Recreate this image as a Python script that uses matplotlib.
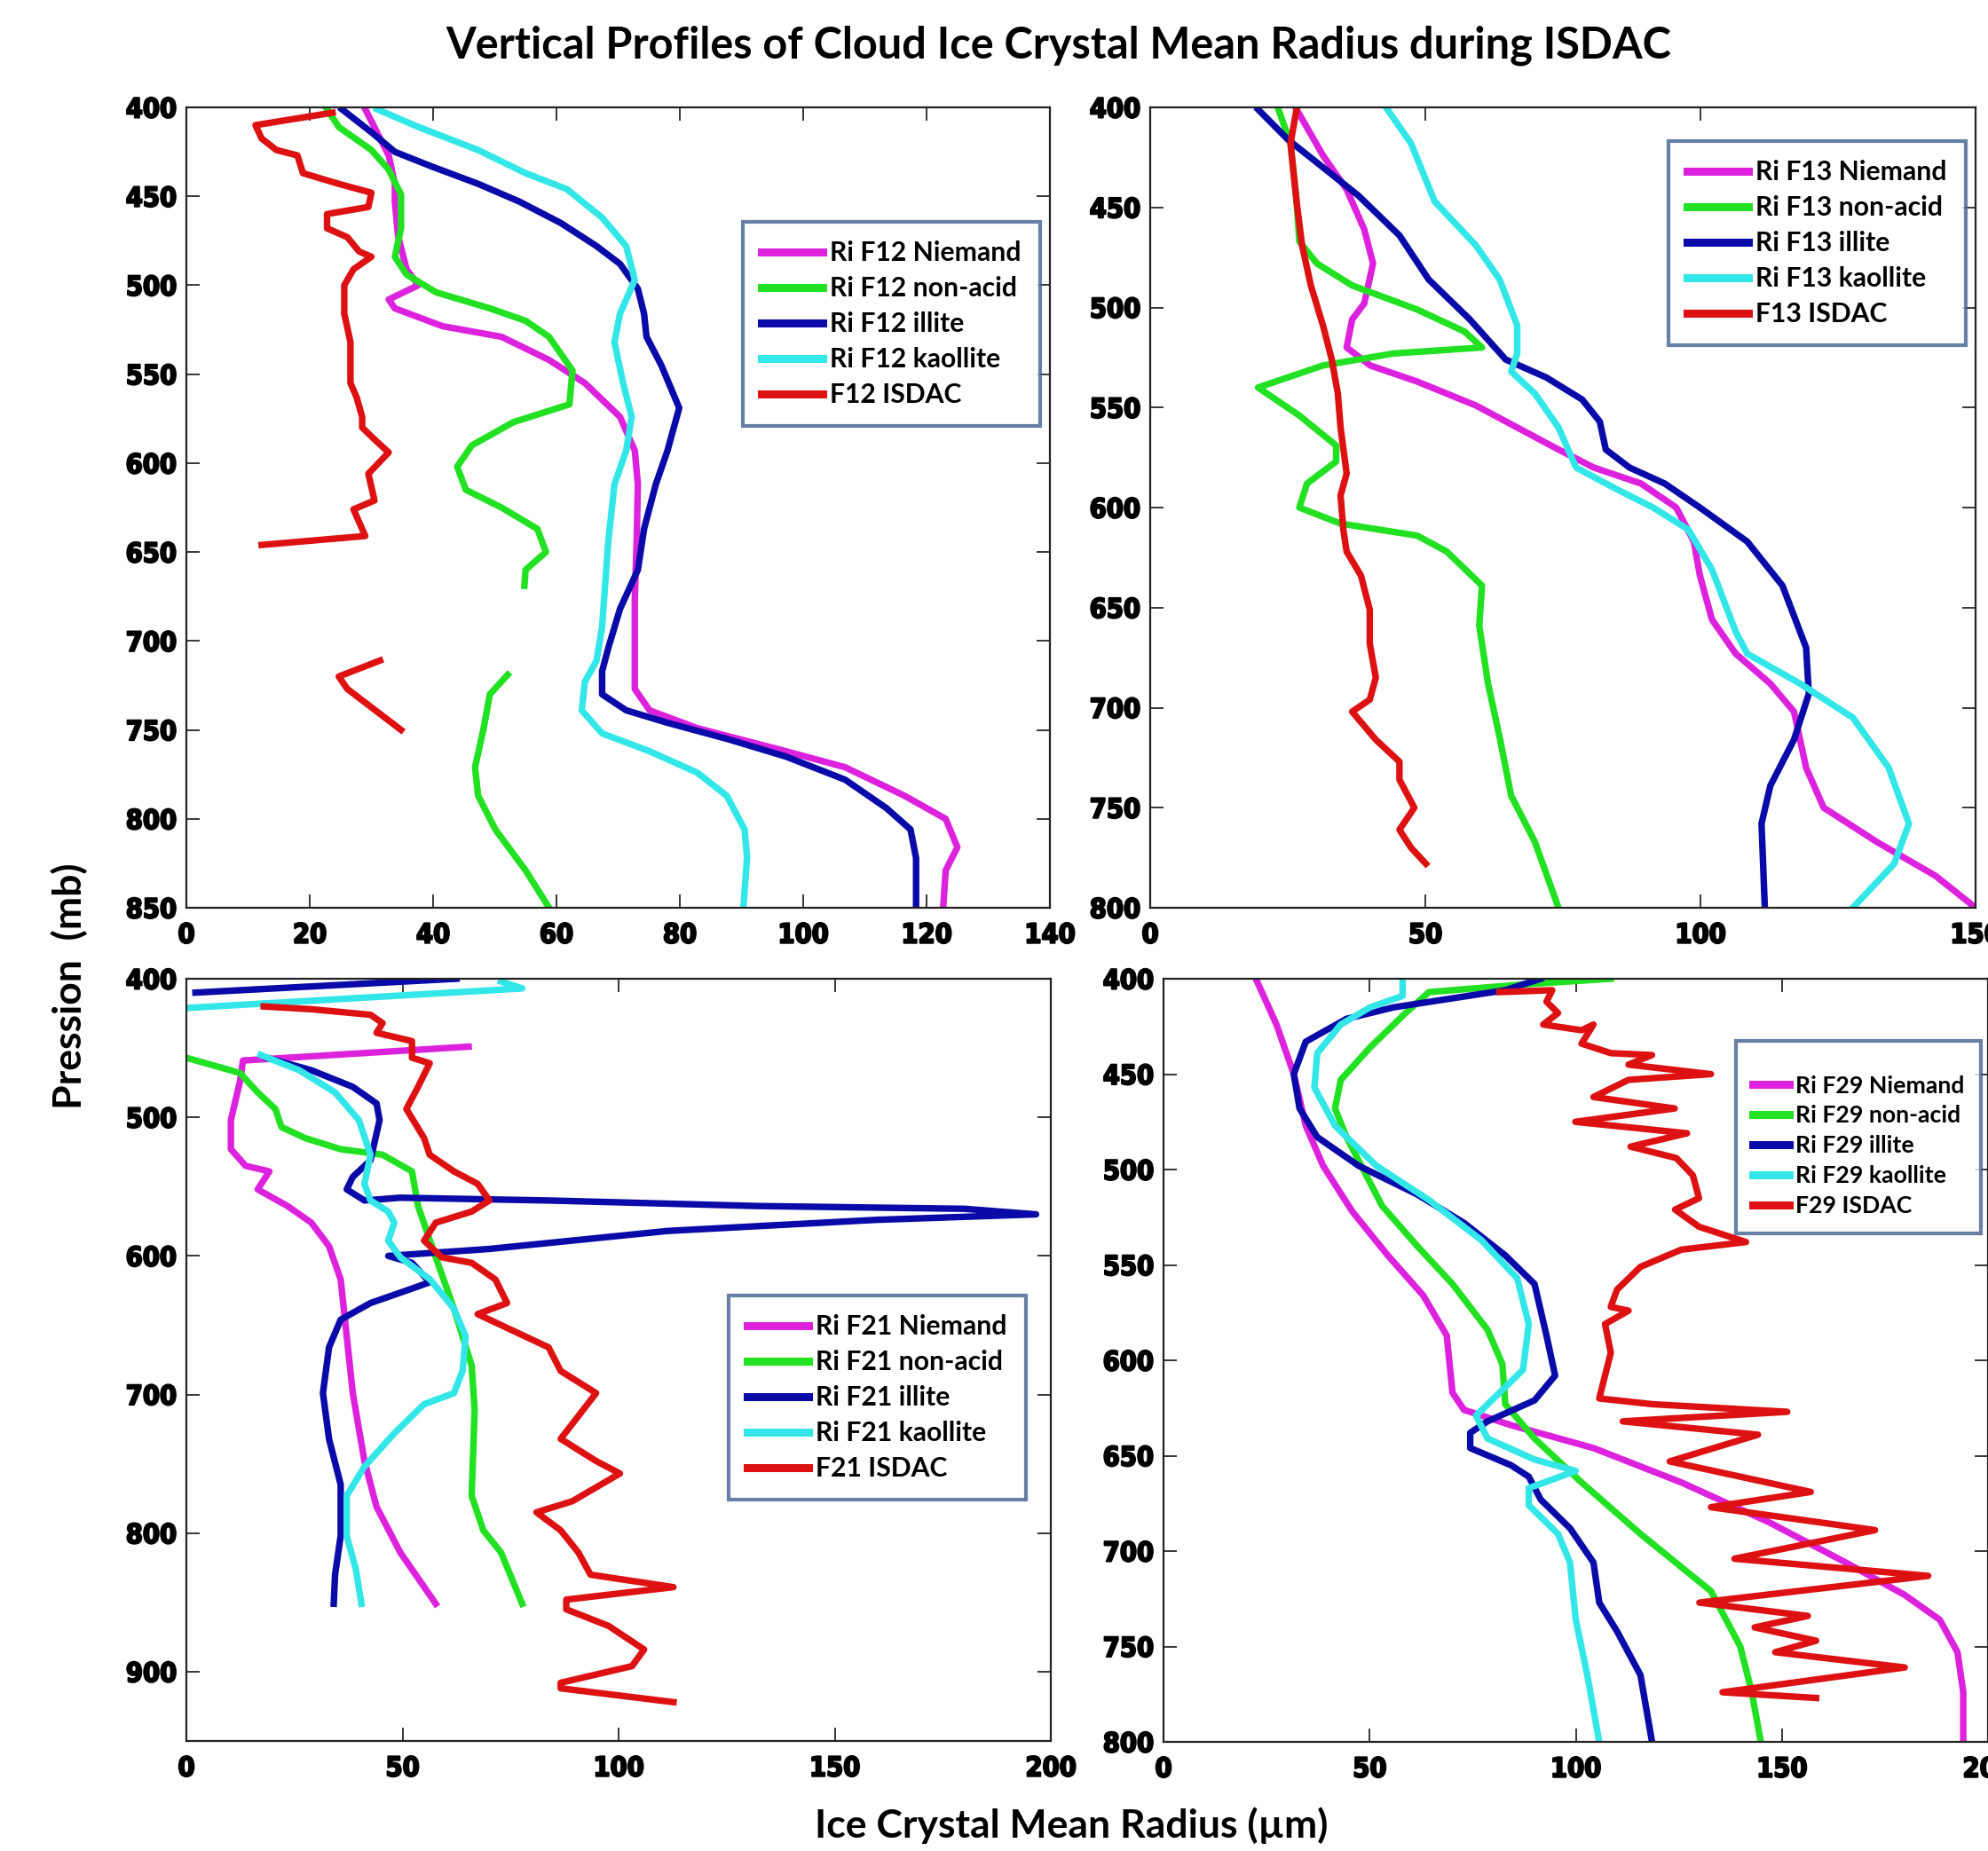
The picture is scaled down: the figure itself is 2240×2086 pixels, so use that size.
import numpy as np
import matplotlib.pyplot as plt
import matplotlib.patheffects as pe
from matplotlib import font_manager

nan = np.nan

# ---- F12 (top left) ----
f12_niemand_r = [29, 30.9, 32.8, 33.8, 33.8, 34.3, 35.7, 37.6, 32.8, 33.8, 41.5, 51.1, 58.8, 64.6, 70.3, 72.7, 73.2, 73, 72.7, 72.7, 72.7, 75.1, 82.8, 97.2, 106.8, 116.4, 123.1, 125, 123.1, 122.7]
f12_niemand_p = [401, 414, 427, 443, 453, 472, 491, 500, 508, 513, 523, 529, 542, 555, 574, 593, 612, 644, 676, 708, 727, 739, 749, 762, 771, 787, 800, 816, 829, 850]
f12_nonacid_r = [22.8, 24.7, 30, 32.8, 34.8, 34.8, 33.8, 35.7, 40.5, 49.2, 55, 58.8, 62.6, 62.1, 53, 46.3, 43.9, 45.3, 51.1, 56.9, 58.3, 55, 54.8, nan, 52.1, 49.2, 48.2, 46.8, 47.3, 50.1, 55, 58.8]
f12_nonacid_p = [401, 411, 424, 435, 449, 468, 484, 494, 504, 513, 520, 529, 548, 567, 577, 590, 602, 615, 625, 637, 650, 660, 669, nan, 719, 730, 749, 771, 787, 806, 829, 850]
f12_illite_r = [25.2, 30, 33.8, 39.6, 47.3, 54, 60.7, 66.5, 70.3, 73.2, 74.2, 74.6, 77, 79.9, 78, 76.1, 74.2, 73.2, 70.3, 68.4, 67.4, 67.4, 71.3, 78, 87.6, 97.2, 106.8, 113.5, 117.4, 118.3, 118.3]
f12_illite_p = [401, 414, 425, 433, 443, 453, 465, 478, 488, 502, 516, 529, 545, 569, 593, 612, 637, 660, 682, 704, 717, 730, 739, 746, 755, 765, 778, 794, 806, 822, 850]
f12_kaol_r = [30.9, 37.6, 47.3, 55, 61.7, 67.4, 71.3, 72.7, 70.3, 69.4, 70.8, 72.2, 71.3, 69.4, 68.4, 67.4, 66.5, 64.6, 64.1, 67.4, 75.1, 82.8, 87.6, 90.5, 90.9, 90.3]
f12_kaol_p = [401, 411, 424, 437, 446, 462, 478, 497, 516, 532, 555, 574, 593, 612, 644, 692, 711, 723, 739, 752, 762, 774, 787, 806, 822, 850]
f12_isdac_r = [23.7, 11.2, 12.2, 14.6, 18, 18.9, 24.7, 30, 29.5, 22.8, 22.8, 26.1, 28, 30, 27.1, 25.6, 25.6, 26.6, 26.6, 27.6, 28.5, 28.5, 30.9, 32.8, 29.5, 30.5, 27.1, 29, 12.2, nan, 31.4, 24.7, 26.1, 34.8]
f12_isdac_p = [403, 410, 417.5, 424, 427, 437, 443, 448, 456, 460, 468, 473, 481, 484, 491, 500, 516, 532, 555, 563, 574, 580, 588, 594, 606, 621, 626, 641, 646, nan, 711, 720, 727, 750]

# ---- F13 (top right) ----
f13_niemand_r = [26.6, 31.4, 35.7, 38.9, 40.5, 38.9, 36.7, 35.7, 40, 48.5, 59.2, 66.7, 74.2, 80.6, 89.2, 95.6, 98.8, 99.9, 102.1, 106.4, 112.7, 117, 119.2, 122.4, 132, 142.7, 150]
f13_niemand_p = [401, 424, 441, 461, 478, 498, 506, 520, 529, 537, 549, 560, 571, 580, 588, 600, 617, 634, 656, 673, 688, 702, 730, 750, 767, 784, 800]
f13_nonacid_r = [23.3, 25.5, 26.6, 27.1, 30.3, 36.7, 48.5, 57.1, 60.3, 44.2, 31.4, 19.6, 27.1, 33.8, 33.8, 28.5, 27.1, 34.6, 48.5, 53.9, 60.3, 59.8, 61.4, 63.6, 65.6, 69.9, 74.2]
f13_nonacid_p = [401, 418, 447, 467, 478, 489, 501, 512, 520, 523, 529, 540, 554, 569, 577, 588, 600, 608, 614, 622, 639, 659, 688, 716, 744, 767, 800]
f13_illite_r = [19.6, 25, 31.4, 37.8, 45.3, 50.6, 58.1, 64.6, 72, 78.5, 81.7, 82.8, 87.1, 93.5, 99.9, 108.5, 114.9, 119.2, 119.7, 117, 112.7, 111.1, 111.7]
f13_illite_p = [401, 416, 430, 444, 464, 486, 506, 526, 535, 546, 557, 571, 580, 588, 600, 617, 639, 670, 693, 716, 739, 758, 800]
f13_kaol_r = [43.1, 47.4, 51.7, 59.2, 63.5, 66.7, 66.7, 65.6, 69.9, 74.2, 77.4, 84.9, 91.4, 97.8, 102.1, 106.4, 108.5, 118.1, 127.7, 134.2, 137.9, 135.2, 127.7]
f13_kaol_p = [401, 418, 447, 469, 486, 509, 523, 532, 543, 560, 580, 591, 600, 611, 631, 662, 673, 688, 705, 730, 758, 778, 800]
f13_isdac_r = [26.6, 25.5, 26.6, 27.6, 29.2, 31.4, 33, 34.1, 34.6, 35.7, 34.6, 35.1, 35.7, 38.3, 39.9, 39.9, 41, 39.9, 36.7, 41, 45.3, 45.3, 48, 45.3, 47.4, 50.1]
f13_isdac_p = [401, 418, 447, 469, 489, 509, 526, 543, 560, 583, 594, 611, 622, 634, 651, 668, 685, 696, 702, 716, 727, 736, 750, 761, 770, 778]

# ---- F21 (bottom left) ----
f21_niemand_r = [65.3, 13.1, 12.4, 10.3, 10.3, 13.7, 19.2, 16.5, 23.4, 28.9, 33, 35.7, 37.1, 38.5, 41.2, 44, 49.5, 57.7]
f21_niemand_p = [449, 459, 474, 502, 523, 535, 539, 552, 564, 576, 593, 617, 658, 699, 748, 781, 814, 851]
f21_nonacid_r = [0, 12.4, 16.5, 20.6, 22, 27.5, 35.7, 45.4, 52.2, 53.6, 57.7, 61.9, 66, 66.7, 66, 68.7, 72.8, 77.7]
f21_nonacid_p = [457, 468, 482, 494, 507, 515, 523, 527, 539, 564, 601, 638, 679, 711, 773, 798, 814, 851]
f21_illite_r = [62.5, 2.1, nan, 18.6, 28.9, 38.5, 44, 44.7, 42.6, 38.5, 37.1, 41.2, 49.5, 83.8, 132, 180, 196.6, 159.5, 111.3, 70, 46.7, 52.2, 56.3, 50.9, 42.6, 35.7, 33, 31.6, 33, 35.7, 35.7, 34.4, 34.1]
f21_illite_p = [400, 410, nan, 457, 466, 478, 490, 502, 531, 543, 552, 560, 558, 560, 564, 566, 570, 574, 582, 595, 600, 605, 619, 625, 634, 646, 666, 699, 732, 765, 802, 830, 851]
f21_kaol_r = [72.8, 77.7, 0.7, nan, 17.2, 26.1, 34.4, 39.9, 42.6, 41.2, 42.6, 46.7, 48.1, 46.7, 49.5, 56.4, 61.9, 64.6, 63.9, 61.9, 55, 48.1, 41.2, 37.1, 37.1, 39.2, 40.5]
f21_kaol_p = [402, 407, 421, nan, 455, 466, 482, 502, 527, 548, 560, 568, 576, 589, 601, 617, 638, 658, 683, 699, 707, 728, 752, 773, 802, 826, 851]
f21_isdac_r = [17.9, 28.9, 42.6, 45.4, 44, 52.2, 52.2, 56.3, 53.6, 50.9, 55, 56.3, 61.9, 67.4, 70.1, 66, 57.7, 55, 59.1, 66, 71.5, 74.2, 67.4, 75.6, 83.8, 86.6, 94.8, 86.6, 94.8, 100.3, 89.3, 81, 86.6, 90.7, 93.5, 112.7, 87.9, 87.9, 97.7, 105.9, 103.1, 86.6, 86.6, 112.7]
f21_isdac_p = [420, 422, 426, 432, 439, 445, 457, 461, 478, 494, 515, 527, 539, 548, 560, 568, 576, 589, 601, 605, 617, 634, 642, 654, 666, 683, 699, 732, 748, 757, 777, 785, 798, 814, 830, 839, 848, 855, 867, 884, 896, 908, 912, 922]

# ---- F29 (bottom right) ----
f29_niemand_r = [22.4, 27.4, 31.6, 34.5, 38.7, 45.8, 54.4, 63, 68.7, 70.1, 72.9, 84.3, 104.3, 125.6, 147, 165.5, 179.8, 188.3, 192.6, 194, 194]
f29_niemand_p = [400, 424, 450, 477, 498, 522, 545, 566, 587, 617, 626, 634, 646, 664, 685, 706, 723, 736, 753, 774, 800]
f29_nonacid_r = [108.5, 87.2, 64.4, 58.7, 50.1, 43, 41.6, 44.4, 48.7, 53, 61.5, 70.1, 78.6, 82.2, 82.9, 90, 101.4, 115.7, 132.8, 139.9, 142.7, 144.9]
f29_nonacid_p = [400, 403, 407, 418, 436, 453, 468, 483, 501, 519, 540, 560, 584, 602, 623, 641, 664, 691, 721, 750, 774, 800]
f29_illite_r = [91.5, 82.9, 55.8, 44.4, 34.5, 31.6, 33, 37.3, 47.3, 61.5, 72.9, 82.9, 90, 92.9, 95, 90, 78.6, 74.4, 74.4, 84.3, 88.6, 91.5, 98.6, 104.3, 105.7, 110, 115.7, 118.5]
f29_illite_p = [400, 406, 415, 421, 433, 450, 468, 483, 498, 513, 528, 545, 560, 587, 608, 621, 632, 638, 646, 655, 661, 673, 688, 706, 727, 742, 765, 800]
f29_kaol_r = [58, 58, 50.1, 43, 37.3, 36.6, 41.6, 51.6, 64.4, 77.1, 85.8, 88.6, 87.2, 81.5, 75.8, 78.6, 90, 100, 88.6, 88.6, 95.7, 98.6, 100, 102.8, 105.7]
f29_kaol_p = [400, 409, 415, 424, 439, 457, 477, 498, 516, 537, 557, 581, 605, 617, 629, 641, 652, 658, 667, 676, 691, 706, 736, 765, 800]
f29_isdac_r = [81.5, 94.3, 92.9, 95.7, 92.1, 101.4, 104.3, 101.4, 108.5, 118.5, 112.8, 132.8, 112.8, 104.3, 124, 99.9, 127, 113.3, 124.4, 128.4, 129.9, 124.1, 129.9, 141.3, 125.6, 115.7, 110, 108.5, 112.8, 107.1, 108.5, 105.7, 118.5, 151.3, 111.4, 144.2, 122.8, 157, 132.8, 172.6, 138.5, 185.5, 130, 156.3, 143.4, 158.3, 148.4, 179.8, 135.6, 158.3]
f29_isdac_p = [407, 406, 412, 418, 424, 427, 424, 434, 439, 440, 445, 450, 453, 462, 468, 475, 481, 488, 494, 503, 515, 521, 530, 538, 542, 551, 563, 572, 574, 581, 596, 620, 623, 627, 632, 639, 653, 669, 677, 689, 704, 713, 727, 734, 740, 747, 753, 761, 774, 777]

series_names = ['Niemand', 'non-acid', 'illite', 'kaollite', 'ISDAC']
colors = ['#dd22dd', '#22e022', '#0a0aa8', '#33e6e8', '#dd1111']

W, H = 2240, 2086
fig = plt.figure(figsize=(W / 100, H / 100), dpi=100)

# narrow heavy font for the tick numbers, whatever is installed
avail = {f.name for f in font_manager.fontManager.ttflist}
if 'Liberation Sans Narrow' in avail:
    tick_font = dict(family='Liberation Sans Narrow', weight='bold', size=29)
elif 'DejaVu Sans Condensed' in avail:
    tick_font = dict(family='DejaVu Sans Condensed', weight='bold', size=25)
else:
    tick_font = dict(family='DejaVu Sans', weight='bold', stretch='condensed', size=22)
text_font = ['Lato', 'DejaVu Sans']

# name, data, axes box px (l, t, r, b), ylim, yticks, xlim, xticks,
# legend corner px, legend font, label spacing, handle length, top spacer size
panels = [
    ('F12', [(f12_niemand_r, f12_niemand_p), (f12_nonacid_r, f12_nonacid_p), (f12_illite_r, f12_illite_p),
             (f12_kaol_r, f12_kaol_p), (f12_isdac_r, f12_isdac_p)],
     (210, 121, 1183, 1023), (400, 850), range(400, 851, 50), (0, 140), range(0, 141, 20),
     (837, 250), 21.7, 0.4, 2.3, 0),
    ('F13', [(f13_niemand_r, f13_niemand_p), (f13_nonacid_r, f13_nonacid_p), (f13_illite_r, f13_illite_p),
             (f13_kaol_r, f13_kaol_p), (f13_isdac_r, f13_isdac_p)],
     (1296, 121, 2226, 1023), (400, 800), range(400, 801, 50), (0, 150), range(0, 151, 50),
     (1880, 159), 21.7, 0.4, 2.3, 0),
    ('F21', [(f21_niemand_r, f21_niemand_p), (f21_nonacid_r, f21_nonacid_p), (f21_illite_r, f21_illite_p),
             (f21_kaol_r, f21_kaol_p), (f21_isdac_r, f21_isdac_p)],
     (210, 1103, 1184, 1962), (400, 950), range(400, 901, 100), (0, 200), range(0, 201, 50),
     (821, 1460), 21.7, 0.4, 2.3, 0),
    ('F29', [(f29_niemand_r, f29_niemand_p), (f29_nonacid_r, f29_nonacid_p), (f29_illite_r, f29_illite_p),
             (f29_kaol_r, f29_kaol_p), (f29_isdac_r, f29_isdac_p)],
     (1311, 1103, 2240, 1963), (400, 800), range(400, 801, 50), (0, 200), range(0, 201, 50),
     (1956, 1173), 19.2, 0.37, 1.55, 8),
]

stroke = [pe.withStroke(linewidth=1.5, foreground='black')]

for flight, data, box, ylim, yticks, xlim, xticks, legpos, legsize, legspace, hlen, spacer in panels:
    l, t, r, b = box
    ax = fig.add_axes([l / W, 1 - b / H, (r - l) / W, (b - t) / H])
    for i, (xr, yp) in enumerate(data):
        lab = flight + ' ISDAC' if i == 4 else 'Ri ' + flight + ' ' + series_names[i]
        ax.plot(xr, yp, color=colors[i], lw=5.3, label=lab, solid_joinstyle='round')
    ax.set_ylim(ylim[1], ylim[0])
    ax.set_xlim(*xlim)
    ax.set_yticks(list(yticks))
    ax.set_xticks(list(xticks))
    ax.tick_params(direction='in', length=11, width=1.1, top=True, right=True)
    ax.tick_params(axis='x', pad=12)
    ax.tick_params(axis='y', pad=8)
    for lbl in ax.get_xticklabels() + ax.get_yticklabels():
        lbl.set_fontproperties(tick_font)
        lbl.set_path_effects(stroke)
    for sp in ax.spines.values():
        sp.set_linewidth(1.6)
        sp.set_color('#222222')
    leg = ax.legend(loc='upper left', bbox_to_anchor=(legpos[0] / W, 1 - legpos[1] / H),
                    bbox_transform=fig.transFigure, fancybox=False, frameon=True,
                    prop=dict(family=text_font, weight='bold', size=legsize),
                    handlelength=hlen, handletextpad=0.25, labelspacing=legspace, borderpad=0.7,
                    borderaxespad=0, title=' ' if spacer else None, title_fontsize=spacer or None)
    leg.get_frame().set_edgecolor('#41608f')
    leg.get_frame().set_linewidth(3)
    for h in leg.get_lines():
        h.set_linewidth(6.5)

fig.text(1193 / W, 1 - 51 / H, 'Vertical Profiles of Cloud Ice Crystal Mean Radius during ISDAC',
         ha='center', va='center', family=text_font, weight='bold', size=35)
fig.text(78 / W, 1 - 1111 / H, 'Pression  (mb)', ha='center', va='center', rotation=90,
         family=text_font, weight='bold', size=32)
fig.text(1207 / W, 1 - 2057 / H, 'Ice Crystal Mean Radius (µm)', ha='center', va='center',
         family=text_font, weight='bold', size=32)

fig.savefig('out.png', dpi=100)
